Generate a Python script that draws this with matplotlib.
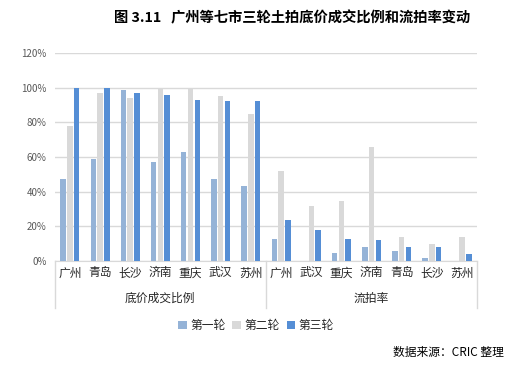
import numpy as np
import matplotlib
matplotlib.use("Agg")
import matplotlib.pyplot as plt

plt.rcParams['font.family'] = ['Noto Sans CJK SC', 'DejaVu Sans']

# data
cities_a = ['广州', '青岛', '长沙', '济南', '重庆', '武汉', '苏州']
cities_b = ['广州', '武汉', '重庆', '济南', '青岛', '长沙', '苏州']
groups = ['底价成交比例', '流拍率']
series = ['第一轮', '第二轮', '第三轮']

round1 = [0.475, 0.59, 0.985, 0.57, 0.63, 0.475, 0.43,
          0.127, 0.0, 0.046, 0.081, 0.058, 0.017, 0.0]
round2 = [0.78, 0.97, 0.94, 1.0, 1.0, 0.95, 0.845,
          0.52, 0.317, 0.346, 0.658, 0.138, 0.098, 0.138]
round3 = [1.0, 1.0, 0.97, 0.955, 0.927, 0.92, 0.92,
          0.237, 0.179, 0.127, 0.121, 0.081, 0.081, 0.04]

colors = ['#95B3D7', '#D9D9D9', '#558ED5']

fig = plt.figure(figsize=(5.12, 3.67), dpi=100)
ax = fig.add_axes([0.107, 0.289, 0.825, 0.567])

x = np.arange(len(round1))
w = 0.18
off = 0.225
for i, vals in enumerate([round1, round2, round3]):
    ax.bar(x + (i - 1) * off, vals, width=w, color=colors[i], label=series[i], zorder=3)

ax.set_xlim(-0.5, len(x) - 0.5)
ax.set_ylim(0, 1.2)
ax.set_yticks(np.arange(0, 1.21, 0.2))
ax.set_yticklabels([f'{int(round(v * 100))}%' for v in np.arange(0, 1.21, 0.2)],
                   fontsize=7, color='#595959')
ax.yaxis.grid(True, color='#D9D9D9', linewidth=1, zorder=0)
ax.tick_params(axis='y', length=0, pad=6)

ax.set_xticks(x)
ax.set_xticklabels(cities_a + cities_b, fontsize=8.5, color='#262626')
ax.tick_params(axis='x', length=0, pad=4)

for s in ['top', 'right', 'left']:
    ax.spines[s].set_visible(False)
ax.spines['bottom'].set_color('#D9D9D9')

# group separators and group labels
tr = ax.get_xaxis_transform()
for xv in [-0.5, 6.5, 13.5]:
    ax.plot([xv, xv], [0, -0.226], transform=tr, color='#D9D9D9', lw=1, clip_on=False)
ax.text(3, -0.18, groups[0], transform=tr, ha='center', va='center', fontsize=8.5, color='#262626')
ax.text(10, -0.18, groups[1], transform=tr, ha='center', va='center', fontsize=8.5, color='#262626')

fig.text(0.57, 0.95, '图 3.11   广州等七市三轮土拍底价成交比例和流拍率变动',
         ha='center', va='center', fontsize=10.3, fontweight='bold')

fig.legend(loc='center', bbox_to_anchor=(0.5, 0.112), ncol=3, frameon=False,
           fontsize=8.5, handlelength=0.7, handleheight=0.7, handletextpad=0.3,
           columnspacing=0.6, labelcolor='#262626')

fig.text(0.985, 0.04, '数据来源：CRIC 整理', ha='right', va='center', fontsize=8.5)

fig.savefig('out.png', dpi=100)
